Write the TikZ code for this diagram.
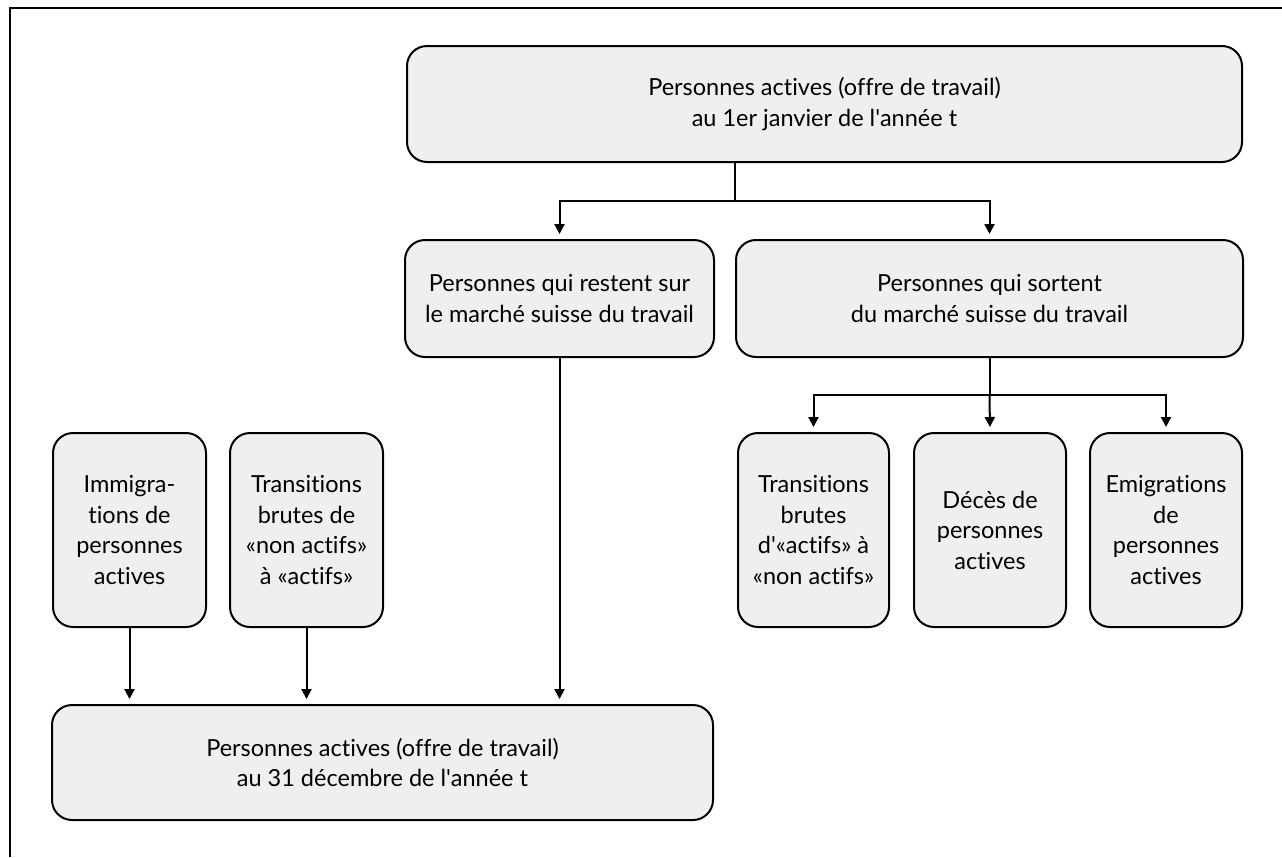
\documentclass[tikz,border=0pt]{standalone}
\usepackage{fontspec}
\setmainfont{Lato}[Ligatures={NoCommon}]
\usepackage{tikz}
\usetikzlibrary{arrows.meta, positioning}
\definecolor{boxgray}{HTML}{EFEFEF}

\begin{document}
\begin{tikzpicture}[x=1pt, y=-1pt,
    box/.style={draw, line width=2pt, fill=boxgray, rounded corners=20pt,
                align=center, inner sep=0pt, font=\fontsize{23.5}{30.5}\selectfont},
    arr/.style={line width=2pt, -{Triangle[length=10pt, width=10pt]}, shorten >=5pt},
    stem/.style={line width=2pt}]
  \useasboundingbox (0,0) rectangle (1282,857);

  %% outer frame (only top and left edges show)
  \draw[line width=2.5pt] (10,857) -- (10,8) -- (1282,8);

  %% first level
  \node[box, minimum width=835pt, minimum height=116pt] (top) at (824.5,104)
    {Personnes actives (offre de travail)\\au 1er janvier de l\textquotesingle ann\'ee t};

  %% second level
  \node[box, minimum width=309pt, minimum height=117pt] (stay) at (559.5,298.5)
    {Personnes qui restent sur\\le march\'e suisse du travail};
  \node[box, minimum width=507pt, minimum height=117pt] (leave) at (989.5,298.5)
    {Personnes qui sortent\\du march\'e suisse du travail};

  %% outflows
  \node[box, minimum width=151pt, minimum height=194pt] (outflow) at (813.5,530)
    {Transitions\\brutes\\d\textquotesingle«actifs» \`a\\«non actifs»};
  \node[box, minimum width=152pt, minimum height=194pt] (death) at (990,530)
    {D\'ec\`es de\\personnes\\actives};
  \node[box, minimum width=152pt, minimum height=194pt] (emig) at (1166,530)
    {Emigrations\\de\\personnes\\actives};

  %% inflows
  \node[box, minimum width=153pt, minimum height=194pt] (immig) at (129.5,530)
    {Immigra-\\tions de\\personnes\\actives};
  \node[box, minimum width=153pt, minimum height=194pt] (inflow) at (306.5,530)
    {Transitions\\brutes de\\«non actifs»\\\`a «actifs»};

  %% end of year
  \node[box, minimum width=661pt, minimum height=115pt] (end) at (382.5,762.5)
    {Personnes actives (offre de travail)\\au 31 d\'ecembre de l\textquotesingle ann\'ee t};

  %% connectors
  \coordinate (split1) at (leave.west |- 0,201);
  \draw[stem] (top.south -| split1) -- (split1);
  \draw[arr] (split1) -| (stay.north);
  \draw[arr] (split1) -| (leave.north);

  \coordinate (split2) at (leave.south |- 0,395);
  \draw[stem] (leave.south) -- (split2);
  \draw[arr] (split2) -| (outflow.north);
  \draw[arr] (split2) -- (death.north);
  \draw[arr] (split2) -| (emig.north);

  \draw[arr] (immig.south) -- (immig.south |- end.north);
  \draw[arr] (inflow.south) -- (inflow.south |- end.north);
  \draw[arr] (stay.south) -- (stay.south |- end.north);

\end{tikzpicture}
\end{document}
